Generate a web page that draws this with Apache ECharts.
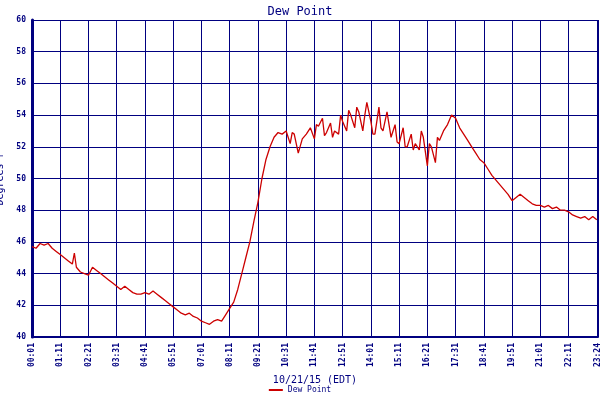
<!DOCTYPE html>
<html>
<head>
<meta charset="utf-8">
<script src="https://cdn.jsdelivr.net/npm/echarts@6/dist/echarts.min.js"></script>
<style>html,body{margin:0;padding:0;background:#fff}#chart{width:600px;height:400px}</style>
</head>
<body>
<div id="chart"></div>
<script>
// minutes since 00:01
var minutes = [0,10,20,30,40,50,60,70,80,90,100,105,110,120,130,140,150,160,170,180,190,200,210,220,230,240,250,260,270,280,290,300,310,320,330,340,350,360,370,380,390,400,410,420,430,440,450,460,470,480,490,500,510,520,530,540,550,560,570,580,590,600,610,620,630,640,645,650,660,670,680,690,700,705,710,720,725,730,740,745,750,760,765,770,780,785,790,800,805,810,820,825,830,840,845,850,860,865,870,880,885,890,900,905,910,920,925,930,940,945,950,960,965,970,980,985,990,1000,1005,1010,1020,1030,1040,1050,1060,1070,1080,1090,1100,1110,1120,1130,1140,1150,1160,1170,1180,1190,1200,1210,1220,1230,1240,1250,1260,1270,1280,1290,1300,1310,1320,1330,1340,1350,1360,1370,1380,1390,1400];
var dewPoint = [45.7,45.6,45.9,45.8,45.9,45.6,45.4,45.2,45.0,44.8,44.6,45.3,44.4,44.1,44.0,43.9,44.4,44.2,44.0,43.8,43.6,43.4,43.2,43.0,43.2,43.0,42.8,42.7,42.7,42.8,42.7,42.9,42.7,42.5,42.3,42.1,41.9,41.7,41.5,41.4,41.5,41.3,41.2,41.0,40.9,40.8,41.0,41.1,41.0,41.4,41.8,42.2,43.0,44.0,45.0,46.0,47.3,48.5,50.0,51.2,52.0,52.6,52.9,52.8,53.0,52.2,52.9,52.8,51.6,52.5,52.8,53.2,52.5,53.4,53.3,53.8,52.7,52.9,53.5,52.6,53.0,52.8,54.0,53.6,53.0,54.3,54.0,53.2,54.5,54.2,53.0,54.0,54.8,53.6,52.8,52.8,54.5,53.2,53.0,54.2,53.4,52.6,53.4,52.3,52.2,53.2,52.0,52.0,52.8,51.8,52.2,51.8,53.0,52.6,50.8,52.2,52.0,51.0,52.6,52.4,53.0,53.4,54.0,53.8,53.2,52.8,52.4,52.0,51.6,51.2,51.0,50.6,50.2,49.9,49.6,49.3,49.0,48.6,48.8,49.0,48.8,48.6,48.4,48.3,48.3,48.2,48.3,48.1,48.2,48.0,48.0,47.9,47.7,47.6,47.5,47.6,47.4,47.6,47.4];
var yTicks = [40,42,44,46,48,50,52,54,56,58,60];

var seriesData = minutes.map(function (m, i) { return [m, dewPoint[i]]; });
var navy = '#000080';
var font = 'DejaVu Sans Mono';

function fmt(v) {
    var t = v + 1;
    var h = Math.floor(t / 60), m = t % 60;
    return (h < 10 ? '0' : '') + h + ':' + (m < 10 ? '0' : '') + m;
}

var myChart = echarts.init(document.getElementById('chart'));
myChart.setOption({
    animation: false,
    title: {
        text: 'Dew Point', left: 'center', top: 1,
        textStyle: { color: navy, fontFamily: font, fontSize: 12, fontWeight: 'normal' }
    },
    legend: {
        bottom: 1, left: 'center', itemWidth: 14, itemHeight: 2, icon: 'rect',
        textStyle: { color: navy, fontFamily: font, fontSize: 8 },
        data: ['Dew Point']
    },
    grid: { left: 32, right: 2, top: 20, bottom: 63, containLabel: false, outerBoundsMode: 'none' },
    xAxis: {
        type: 'value', min: 0, max: 1403, interval: 70,
        name: '10/21/15 (EDT)', nameLocation: 'middle', nameGap: 38,
        nameTextStyle: { color: navy, fontFamily: font, fontSize: 10 },
        axisLine: { show: true, lineStyle: { color: navy, width: 2 } },
        axisTick: { show: false },
        splitLine: { show: true, lineStyle: { color: navy, width: 1 } },
        axisLabel: {
            rotate: 90, color: navy, fontFamily: font, fontSize: 8, fontWeight: 'bold',
            showMaxLabel: true, hideOverlap: false, formatter: fmt, margin: 6
        }
    },
    yAxis: {
        type: 'value', min: 40, max: 60, interval: 2,
        name: 'Degrees F', nameLocation: 'middle', nameGap: 22,
        nameTextStyle: { color: navy, fontFamily: font, fontSize: 10 },
        axisLine: { show: true, lineStyle: { color: navy, width: 3 } },
        axisTick: { show: false },
        splitLine: { show: true, lineStyle: { color: navy, width: 1 } },
        axisLabel: {
            color: navy, fontFamily: font, fontSize: 8, fontWeight: 'bold', margin: 6,
            formatter: function (v) { return yTicks.indexOf(v) >= 0 ? v : ''; }
        }
    },
    series: [{
        name: 'Dew Point', type: 'line', data: seriesData, showSymbol: false,
        lineStyle: { color: '#cc0000', width: 1.3 }, itemStyle: { color: '#cc0000' }
    }]
});
</script>
</body>
</html>
